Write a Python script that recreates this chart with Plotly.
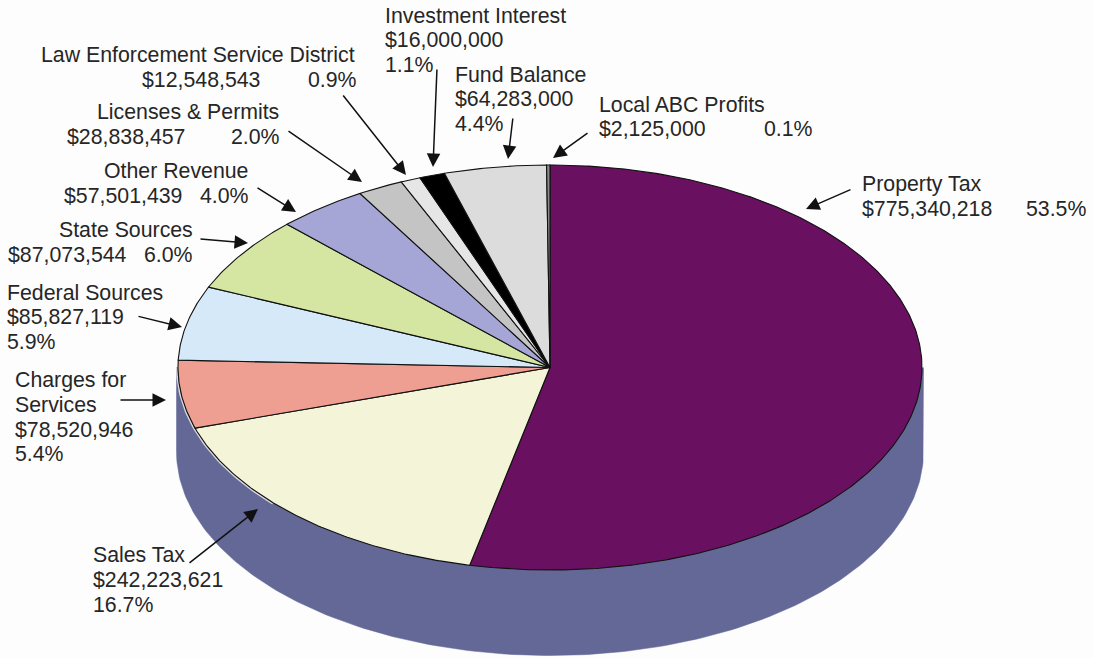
import math
import plotly.graph_objects as go

# Revenue sources, clockwise from twelve o'clock
names = ["Property Tax", "Sales Tax", "Charges for Services", "Federal Sources",
         "State Sources", "Other Revenue", "Licenses & Permits",
         "Law Enforcement Service District", "Investment Interest",
         "Fund Balance", "Local ABC Profits"]
amounts = [775340218, 242223621, 78520946, 85827119, 87073544, 57501439,
           28838457, 12548543, 16000000, 64283000, 2125000]
percents = [53.5, 16.7, 5.4, 5.9, 6.0, 4.0, 2.0, 0.9, 1.1, 4.4, 0.1]
colors = ["#6a1060", "#f3f4d8", "#ee9f92", "#d6e9f8", "#d4e6a2", "#a6a6d6",
          "#c4c4c4", "#e6e6e6", "#000000", "#dcdcdc", "#8a8a8a"]

WIDTH, HEIGHT = 1093, 658
CX, CY, RX, RY = 550, 367.5, 372, 202.5
DEPTH = 84
SIDE_COLOR = "#636896"
TEXT_COLOR = "#262626"
FONT_SIZE = 21.3


def point(deg, grow=0.0):
    rad = math.radians(deg)
    return CX + (RX + grow) * math.sin(rad), CY + (RY + grow) * -math.cos(rad)


fig = go.Figure()

# Cylinder wall below the disc: lower half of an ellipse dropped by the depth
wall_x, wall_y = [], []
for d in range(90, 271):
    px, py = point(d, 1.5)
    wall_x.append(px)
    wall_y.append(py + DEPTH)
wall_x = [CX + RX + 1.5] + wall_x + [CX - RX - 1.5]
wall_y = [CY] + wall_y + [CY]
fig.add_trace(go.Scatter(x=wall_x, y=wall_y, mode="lines", fill="toself",
                         fillcolor=SIDE_COLOR, line=dict(color=SIDE_COLOR, width=0.5),
                         hoverinfo="skip", showlegend=False))

# Pale rim where the disc lifts off the wall on the left
rim = [point(d, 1.2) for d in range(228, 271)]
fig.add_trace(go.Scatter(x=[p[0] for p in rim], y=[p[1] for p in rim], mode="lines",
                         line=dict(color="#d8d8d8", width=1.6),
                         hoverinfo="skip", showlegend=False))

# Disc slices, sized by each source's share of the total
total = sum(amounts)
start = 0.0
for name, amount, color in zip(names, amounts, colors):
    sweep = 360.0 * amount / total
    steps = max(2, int(sweep * 2))
    xs, ys = [CX], [CY]
    for i in range(steps + 1):
        px, py = point(start + sweep * i / steps)
        xs.append(px)
        ys.append(py)
    xs.append(CX)
    ys.append(CY)
    fig.add_trace(go.Scatter(x=xs, y=ys, mode="lines", fill="toself", fillcolor=color,
                             line=dict(color="#111111", width=1.1), name=name,
                             hoverinfo="name", showlegend=False))
    start += sweep

money = [f"${a:,}" for a in amounts]
pct = [f"{p:.1f}%" for p in percents]

# Label lines: text, left edge, vertical centre
label_lines = [
    (names[8], 385, 15), (money[8], 385, 39), (pct[8], 385, 64),
    (names[9], 455, 74), (money[9], 455, 98), (pct[9], 455, 123),
    (names[10], 599, 104), (money[10], 599, 128), (pct[10], 764, 128),
    (names[0], 862, 183), (money[0], 862, 208), (pct[0], 1026, 208),
    (names[7], 41, 54), (money[7], 142, 79), (pct[7], 308, 79),
    (names[6], 97, 111), (money[6], 67, 136), (pct[6], 231, 136),
    (names[5], 104, 170), (money[5], 64, 195), (pct[5], 200, 195),
    (names[4], 59, 229), (money[4], 8, 254), (pct[4], 144, 254),
    (names[3], 7, 292), (money[3], 7, 316), (pct[3], 7, 341),
    ("Charges for", 15, 379), ("Services", 15, 404), (money[2], 15, 429), (pct[2], 15, 453),
    (names[1], 93, 554), (money[1], 93, 579), (pct[1], 93, 604),
]
annotations = [dict(x=x, y=y, text=t, xref="x", yref="y", xanchor="left", yanchor="middle",
                    xshift=-2, yshift=-1, showarrow=False,
                    font=dict(family="Liberation Sans", size=FONT_SIZE, color=TEXT_COLOR))
               for t, x, y in label_lines]

# Leader arrows: tail x, tail y, tip x, tip y
leaders = [
    (852, 189, 806, 209), (589, 132, 553, 158), (513, 117, 508, 159),
    (437, 68, 433, 167), (342, 94, 406, 175), (287, 130, 362, 182),
    (256, 187, 296, 212), (199, 239, 248, 243), (137, 316, 182, 327),
    (119, 400, 166, 400), (188, 564, 258, 509),
]
for tx, ty, hx, hy in leaders:
    annotations.append(dict(x=hx, y=hy, ax=tx, ay=ty, xref="x", yref="y", axref="x", ayref="y",
                            text="", showarrow=True, arrowhead=2, arrowsize=1.8,
                            arrowwidth=1.5, arrowcolor="#111111", standoff=0))

fig.update_layout(
    width=WIDTH, height=HEIGHT, margin=dict(l=0, r=0, t=0, b=0),
    paper_bgcolor="#fdfdfd", plot_bgcolor="#fdfdfd", annotations=annotations,
    xaxis=dict(range=[0, WIDTH], visible=False, fixedrange=True),
    yaxis=dict(range=[HEIGHT, 0], visible=False, fixedrange=True),
)
fig.write_html("out.html")
